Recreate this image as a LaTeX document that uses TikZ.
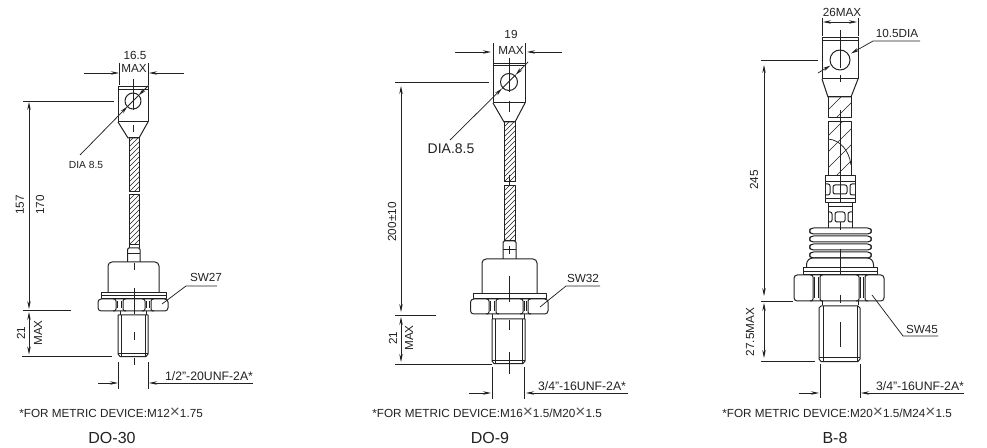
\documentclass[tikz,border=0pt]{standalone}
\usepackage{fontspec}
\setmainfont{Liberation Sans}
\usetikzlibrary{arrows.meta}
\definecolor{ink}{HTML}{222222}
\newcommand{\bigtimes}{\textcolor{ink!75}{\raisebox{-0.6pt}{\fontsize{13}{13}\selectfont ×}}}
\tikzset{
  px/.style={x=0.75pt,y=-0.75pt},
  part/.style={draw=ink,line width=0.75pt,line join=round},
  thin line/.style={draw=ink,line width=0.55pt},
  dim/.style={draw=ink,line width=0.55pt,-{Stealth[length=6pt,width=2.6pt]}},
  ddim/.style={draw=ink,line width=0.55pt,{Stealth[length=6pt,width=2.6pt]}-{Stealth[length=6pt,width=2.6pt]}},
  hatch/.style={draw=ink,line width=0.4pt},
  lab/.style={text=ink,font=\fontsize{8.8}{10}\selectfont,inner sep=0pt},
  thread/.style={text=ink,font=\fontsize{9.2}{10}\selectfont,inner sep=0pt},
  sm/.style={text=ink,font=\fontsize{7.7}{9}\selectfont,inner sep=0pt},
  big/.style={text=ink,font=\fontsize{10.5}{12}\selectfont,inner sep=0pt},
  note/.style={text=ink,font=\fontsize{8.8}{10}\selectfont,inner sep=0pt,anchor=west},
  title/.style={text=ink,font=\fontsize{12}{14}\selectfont,inner sep=0pt},
}
% hatched rectangle: x1 y1 x2 y2 step
\newcommand{\hatchbar}[5]{%
  \begin{scope}
    \clip (#1,#2) rectangle (#3,#4);
    \pgfmathtruncatemacro{\hnext}{-200+#5}
    \foreach \h in {-200,\hnext,...,200}{
      \draw[hatch] (#1+\h,#4) -- ++(200,-200);
    }
  \end{scope}
  \draw[part] (#1,#2) rectangle (#3,#4);
}
% hexagon nut: xl xr yt yb f1 f2 f3 f4
\newcommand{\hexnut}[8]{%
  \draw[part,rounded corners=2.4pt] (#1,#3) rectangle (#2,#4);
  \draw[part,rounded corners=1.6pt] (#5-3,#3) -- (#5,#3) -- (#5,#4) -- (#5-3,#4);
  \draw[part,rounded corners=1.6pt] (#6+3,#3) -- (#6,#3) -- (#6,#4) -- (#6+3,#4);
  \draw[part,rounded corners=1.6pt] (#7-3,#3) -- (#7,#3) -- (#7,#4) -- (#7-3,#4);
  \draw[part,rounded corners=1.6pt] (#8+3,#3) -- (#8,#3) -- (#8,#4) -- (#8+3,#4);
  \draw[thin line] (#5+1.8,#3+2.5) -- (#5+1.8,#4-2.5) (#6-1.8,#3+2.5) -- (#6-1.8,#4-2.5) (#7+1.8,#3+2.5) -- (#7+1.8,#4-2.5) (#8-1.8,#3+2.5) -- (#8-1.8,#4-2.5);
}
\begin{document}
\begin{tikzpicture}[px]
\useasboundingbox (0,0) rectangle (987,448);
\fill[white] (0,0) rectangle (987,448);

%% ===== DO-30 =====
\draw[part] (118,87) rectangle (148,122);
\draw[part] (118,89.5) -- (148,89.5);
\draw[part] (133,101) circle (8);
\draw[part] (118,122) -- (128,138) -- (139,138) -- (148,122);
\hatchbar{129}{138}{139}{192}{5}
\hatchbar{129}{195}{139}{245}{5}
\draw[part] (129,248) -- (129,245) (139,248) -- (139,245);
\draw[part,rounded corners=1pt] (127.5,262) -- (127.5,248) -- (140,248) -- (140,262);
\draw[part] (127.5,254) -- (140,254);
\draw[part,rounded corners=3pt] (108,293) -- (108,262) -- (159,262) -- (159,293);
\draw[part] (101,293) rectangle (166,299);
\draw[part] (101,296) -- (166,296);
\hexnut{98}{168}{299}{311}{116}{123}{145}{151}
\draw[part] (120,311) -- (120,315) (146,311) -- (146,315);
\draw[part] (118,315) -- (148,315) (118,315) -- (118,354) -- (120,356.5) -- (146,356.5) -- (148,354) -- (148,315);
\draw[thin line] (121,315) -- (121,356) (145.5,315) -- (145.5,356);
\draw[thin line] (118,353.5) -- (148,353.5);
% centre lines
\draw[thin line] (133.5,79) -- (133.5,110) (133,125) -- (133,132) (134.5,263) -- (134.5,270) (134.5,288) -- (134.5,314) (134.5,332) -- (134.5,340) (134.5,358) -- (134.5,365);
% dims
\node[lab] (a1) at (135,55) {16.5};
\node[lab] (a2) at (134,68) {MAX};
\draw[thin line] (119.5,63) -- (119.5,85) (148,63) -- (148,85);
\coordinate (a3) at (84,73); \coordinate (a4) at (119,73);
\coordinate (a5) at (184,73); \coordinate (a6) at (149,73);
\draw[dim] (a3) -- (a4); \draw[dim] (a5) -- (a6);
\node[sm] (a7) at (86,165) {DIA 8.5};
\coordinate (a8) at (80,155); \coordinate (a9) at (127.5,106.5); \coordinate (a10) at (148.5,85.5); \coordinate (a11) at (138.5,95.5);
\draw[dim] (a8) -- (a9); \draw[thin line] (a9) -- (a11); \draw[dim] (a10) -- (a11);
\draw[thin line] (23,101) -- (114,101) (23,310.5) -- (71,310.5) (22,356) -- (112,356);
\coordinate (a12) at (29,102); \coordinate (a13) at (29,309);
\coordinate (a14) at (29,312); \coordinate (a15) at (29,354.5);
\draw[ddim] (a12) -- (a13); \draw[ddim] (a14) -- (a15);
\node[lab,rotate=90] (a16) at (20,205) {157};
\node[lab,rotate=90] (a17) at (40,205) {170};
\node[lab,rotate=90] (a18) at (21,333) {21};
\node[lab,rotate=90] (a19) at (38,333) {MAX};
\node[lab] (a20) at (206,277.5) {SW27};
\coordinate (a21) at (217,286); \coordinate (a22) at (186,286); \coordinate (a23) at (162,304);
\draw[thin line] (a21) -- (a22) -- (a23);
\draw[thin line] (118.5,362) -- (118.5,389) (148,362) -- (148,389);
\coordinate (a24) at (98,383); \coordinate (a25) at (118,383);
\coordinate (a26) at (253,383); \coordinate (a27) at (149,383);
\draw[dim] (a24) -- (a25); \draw[dim] (a26) -- (a27);
\node[thread] (a28) at (209,376.5) {1/2"-20UNF-2A*};
\node[note] (a29) at (19,413) {*FOR METRIC DEVICE:M12\bigtimes 1.75};
\node[title] (a30) at (112,438) {DO-30};

%% ===== DO-9 =====
\draw[part] (493,64) rectangle (525,103);
\draw[part] (493,66) -- (525,66);
\draw[part] (509,82) circle (8.5);
\draw[part] (493,103) -- (504,122) -- (515,122) -- (525,103);
\hatchbar{504}{122}{515}{182}{5}
\hatchbar{504}{186}{515}{241}{5}
\draw[part,rounded corners=1pt] (503,259) -- (503,241) -- (516,241) -- (516,259);
\draw[part] (503,250) -- (516,250);
\draw[part,rounded corners=3pt] (482,294) -- (482,259) -- (537,259) -- (537,294);
\draw[part] (473,294) rectangle (546,299);
\hexnut{470.5}{548}{299}{314}{489}{496}{523}{528}
\draw[part] (492,314) -- (492,319) (524,314) -- (524,319);
\draw[part] (492,319) -- (525,319) (492,319) -- (492,361) -- (494,363.5) -- (523,363.5) -- (525,361) -- (525,319);
\draw[thin line] (495,319) -- (495,363) (522,319) -- (522,363);
\draw[thin line] (492,360) -- (525,360);
\draw[thin line] (509,58) -- (509,92) (509,101) -- (509,112) (509,175) -- (509,185) (509,246) -- (509,254) (509,276) -- (509,302) (509,320) -- (509,330) (509,352) -- (509,374);
\node[lab] (b1) at (511,34) {19};
\node[lab] (b2) at (511,50) {MAX};
\draw[thin line] (493,43) -- (493,63) (525,43) -- (525,63);
\coordinate (b3) at (455,52); \coordinate (b4) at (491,52);
\coordinate (b5) at (562,52); \coordinate (b6) at (527,52);
\draw[dim] (b3) -- (b4); \draw[dim] (b5) -- (b6);
\node[big] (b7) at (451,149) {DIA.8.5};
\coordinate (b8) at (450,140); \coordinate (b9) at (502,88.5); \coordinate (b10) at (528,62); \coordinate (b11) at (515.5,75);
\draw[dim] (b8) -- (b9); \draw[thin line] (b9) -- (b11); \draw[dim] (b10) -- (b11);
\draw[thin line] (395,82) -- (489,82) (395,315) -- (436,315) (395,364) -- (492,364);
\coordinate (b12) at (401,86); \coordinate (b13) at (401,312);
\coordinate (b14) at (401,317); \coordinate (b15) at (401,362);
\draw[ddim] (b12) -- (b13); \draw[ddim] (b14) -- (b15);
\node[lab,rotate=90] (b16) at (392,222) {200±10};
\node[lab,rotate=90] (b17) at (393,338) {21};
\node[lab,rotate=90] (b18) at (409,338) {MAX};
\node[lab] (b19) at (583,278) {SW32};
\coordinate (b20) at (600,286); \coordinate (b21) at (566,286); \coordinate (b22) at (540,307);
\draw[thin line] (b20) -- (b21) -- (b22);
\draw[thin line] (492,367) -- (492,399) (524,367) -- (524,399);
\coordinate (b23) at (469,393); \coordinate (b24) at (491,393);
\coordinate (b25) at (628,393); \coordinate (b26) at (526,393);
\draw[dim] (b23) -- (b24); \draw[dim] (b25) -- (b26);
\node[thread] (b27) at (582,386) {3/4"-16UNF-2A*};
\node[note] (b28) at (372,413) {*FOR METRIC DEVICE:M16\bigtimes 1.5/M20\bigtimes 1.5};
\node[title] (b29) at (490,438) {DO-9};

%% ===== B-8 =====
\draw[part] (822,38) rectangle (858,79);
\draw[part] (822,40.5) -- (858,40.5);
\draw[part] (840,60) circle (10);
\draw[part] (822,79) -- (828,97) -- (851,97) -- (858,79);
\hatchbar{828}{97}{851}{118}{16}
\hatchbar{828}{122}{851}{176}{16}
\draw[thin line] (828,139) .. controls (840,140) and (849,150) .. (851,165);
% upper collar
\draw[part] (825,176) rectangle (855,203);
\draw[part] (825,182) -- (855,182) (825,199) -- (855,199);
\draw[part,rounded corners=1.5pt] (825,184) -- (830,184) -- (830,195) -- (825,195);
\draw[part,rounded corners=1.5pt] (855,184) -- (850,184) -- (850,195) -- (855,195);
\draw[part,rounded corners=1.5pt] (833,185) rectangle (847,194);
% lower stud
\draw[part] (828,203) -- (828,228) (852,203) -- (852,228);
\draw[part] (828,207) -- (852,207);
\draw[part,rounded corners=1.5pt] (828,212) -- (832,212) -- (832,222) -- (828,222);
\draw[part,rounded corners=1.5pt] (852,212) -- (848,212) -- (848,222) -- (852,222);
\draw[part,rounded corners=1.5pt] (835,212) rectangle (845,222);
% fins
\foreach \yy in {228,236,244,252}{
  \draw[part,rounded corners=2pt] (811,\yy) -- (809,\yy+3) -- (811,\yy+6) -- (870,\yy+6) -- (872,\yy+3) -- (870,\yy) -- cycle;
}
\draw[part,rounded corners=2pt] (806.5,268) -- (806.5,262) -- (810,258) -- (870,258) -- (873.5,262) -- (873.5,268);
\draw[part] (803,268) rectangle (877,275);
\draw[part] (803,271.5) -- (877,271.5);
\hexnut{794}{884}{275}{301}{813}{820}{859}{865}
\draw[part] (822,301) -- (822,305) (858,301) -- (858,305);
\draw[part] (819,308) -- (821,306) -- (858,306) -- (860,308) -- (860,359) -- (858,361.5) -- (821,361.5) -- (819,359) -- cycle;
\draw[thin line] (823,306) -- (823,361) (857,306) -- (857,361);
\draw[thin line] (819,357) -- (860,357);
\draw[thin line] (840,30) -- (840,68) (840,75) -- (840,82) (840,110) -- (840,203) (840,222) -- (840,230) (840,249) -- (840,275) (840,295) -- (840,303) (840,322) -- (840,347);
\node[lab] (c1) at (842,12) {26MAX};
\draw[thin line] (822.5,18) -- (822.5,36) (858,18) -- (858,36);
\coordinate (c2) at (823,22); \coordinate (c3) at (857,22);
\draw[ddim] (c2) -- (c3);
\node[lab] (c4) at (897,33) {10.5DIA};
\coordinate (c5) at (920,41); \coordinate (c6) at (873,41); \coordinate (c7) at (851,53.5);
\draw[dim] (c5) -- (c6) -- (c7);
\coordinate (c8) at (818,73); \coordinate (c9) at (830.5,65.5);
\draw[dim] (c8) -- (c9);
\draw[thin line] (761,60) -- (818,60) (761,301) -- (793,301) (761,361) -- (815,361);
\coordinate (c10) at (764,65); \coordinate (c11) at (764,296);
\coordinate (c12) at (764,303); \coordinate (c13) at (764,358);
\draw[ddim] (c10) -- (c11); \draw[ddim] (c12) -- (c13);
\node[lab,rotate=90] (c14) at (754,180) {245};
\node[lab,rotate=90] (c15) at (750,332) {27.5MAX};
\node[lab] (c16) at (922,329) {SW45};
\coordinate (c17) at (938,336); \coordinate (c18) at (903,336); \coordinate (c19) at (872,295);
\draw[thin line] (c17) -- (c18) -- (c19);
\draw[thin line] (820,364) -- (820,398) (860,364) -- (860,398);
\coordinate (c20) at (799,393); \coordinate (c21) at (819,393);
\coordinate (c22) at (964,393); \coordinate (c23) at (861,393);
\draw[dim] (c20) -- (c21); \draw[dim] (c22) -- (c23);
\node[thread] (c24) at (920,386) {3/4"-16UNF-2A*};
\node[note] (c25) at (722,413) {*FOR METRIC DEVICE:M20\bigtimes 1.5/M24\bigtimes 1.5};
\node[title] (c26) at (835,438) {B-8};
\end{tikzpicture}
\end{document}
